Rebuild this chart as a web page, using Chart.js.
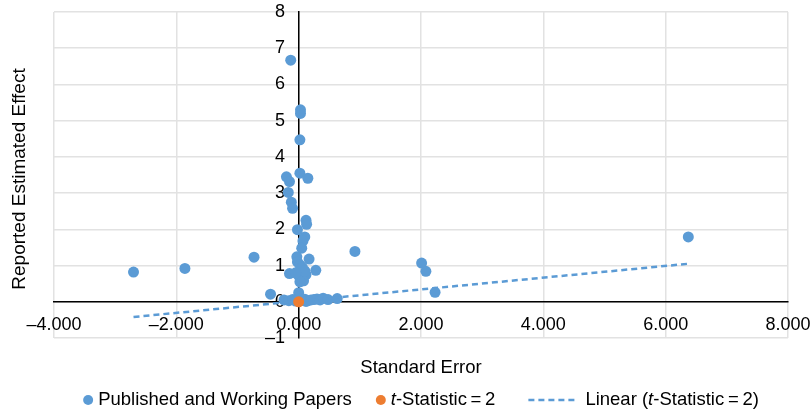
<!DOCTYPE html>
<html>
<head>
<meta charset="utf-8">
<script src="https://cdn.jsdelivr.net/npm/chart.js@4.4.1/dist/chart.umd.min.js"></script>
<style>
  body { margin: 0; background: #fff; }
  #wrap { width: 812px; height: 412px; }
</style>
</head>
<body>
<div id="wrap"><canvas id="seChart"></canvas></div>
<script>
// standard error (x) vs reported estimated effect (y)
const paperSE = [
  -2.70, -1.86, -0.73, 0.92, 2.01, 2.08, 2.23, 6.37,
  -0.13, 0.03, 0.03, 0.02, 0.02, 0.15, -0.20, -0.15, -0.17, -0.12, -0.10,
  0.12, 0.13, -0.02, 0.10, 0.07, 0.05, -0.03, 0.17, -0.02, 0.02, 0.06,
  -0.15, 0.28, 0.00, 0.05, 0.12, 0.08, 0.02, 0.10, -0.05,
  -0.46, 0.00,
  -0.24, -0.16, -0.10, -0.05, 0.05, 0.10, 0.12, 0.15, 0.20, 0.25, 0.30, 0.35, 0.40, 0.48, 0.63
];
const paperEffect = [
  0.82, 0.92, 1.23, 1.39, 1.07, 0.84, 0.26, 1.79,
  6.67, 5.30, 5.20, 4.47, 3.55, 3.41, 3.45, 3.32, 3.02, 2.75, 2.58,
  2.25, 2.14, 1.99, 1.79, 1.68, 1.48, 1.24, 1.18, 1.10, 1.02, 0.95,
  0.78, 0.87, 0.72, 0.65, 0.75, 0.58, 0.55, 0.85, 0.80,
  0.21, 0.25,
  0.05, 0.03, 0.06, 0.02, 0.04, 0.07, 0.01, 0.03, 0.05, 0.06, 0.08, 0.05, 0.10, 0.06, 0.09
];
const tStatSE = [0];
const tStatEffect = [0];
// ends of the linear trend for the t-statistic series
const trendSE = [-2.70, 6.37];
const trendEffect = [-0.42, 1.05];

const xTicks = [-4, -2, 0, 2, 4, 6, 8];
const yTicks = [-1, 0, 1, 2, 3, 4, 5, 6, 7, 8];

const seriesNames = ['Published and Working Papers', 't-Statistic\u2009=\u20092', 'Linear (t-Statistic\u2009=\u20092)'];
const blue = '#5b9bd5';
const orange = '#ed7d31';
const FONT = '"Liberation Sans", Arial, Helvetica, sans-serif';

const toPts = (xs, ys) => xs.map((x, i) => ({ x: x, y: ys[i] }));
const minusFmt = (v, digits) => (v < 0 ? '\u2013' : '') + Math.abs(v).toFixed(digits);
// crossing axes: stop the edge labels from pushing the plot area around
const noPad = s => { s.paddingTop = 0; s.paddingBottom = 0; s.paddingLeft = 0; s.paddingRight = 0; };

// axis titles + legend (legend needs the italic t, so it's drawn by hand)
const extras = {
  id: 'extras',
  afterDraw(chart) {
    const ctx = chart.ctx;
    const area = chart.chartArea;
    const mid = (area.left + area.right) / 2;
    ctx.save();
    ctx.fillStyle = '#000';
    ctx.font = '18.5px ' + FONT;
    ctx.textAlign = 'center';
    ctx.textBaseline = 'middle';
    ctx.fillText('Standard Error', mid, 368);
    ctx.save();
    ctx.translate(20, 179);
    ctx.rotate(-Math.PI / 2);
    ctx.font = '19px ' + FONT;
    ctx.fillText('Reported Estimated Effect', 0, 0);
    ctx.restore();

    // legend row
    const y = 400;
    const norm = '18.5px ' + FONT;
    const ital = 'italic 18.5px ' + FONT;
    const parts = [
      [{ t: 'Published and Working Papers', f: norm }],
      [{ t: 't', f: ital }, { t: '-Statistic\u2009=\u20092', f: norm }],
      [{ t: 'Linear (', f: norm }, { t: 't', f: ital }, { t: '-Statistic\u2009=\u20092)', f: norm }]
    ];
    const markW = [15, 15, 57];
    const gaps = [24, 33];
    const widths = parts.map(p => p.reduce((s, seg) => { ctx.font = seg.f; return s + ctx.measureText(seg.t).width; }, 0));
    let total = 0;
    widths.forEach((w, i) => { total += w + markW[i] + (gaps[i] || 0); });
    let x = mid - total / 2;
    ctx.textAlign = 'left';
    parts.forEach((p, i) => {
      if (i < 2) {
        ctx.fillStyle = i === 0 ? blue : orange;
        ctx.beginPath();
        ctx.arc(x + 5, y, 5, 0, Math.PI * 2);
        ctx.fill();
      } else {
        ctx.strokeStyle = blue;
        ctx.lineWidth = 2.5;
        ctx.setLineDash([6, 4]);
        ctx.beginPath();
        ctx.moveTo(x, y);
        ctx.lineTo(x + 50, y);
        ctx.stroke();
        ctx.setLineDash([]);
      }
      x += markW[i];
      ctx.fillStyle = '#000';
      p.forEach(seg => {
        ctx.font = seg.f;
        ctx.fillText(seg.t, x, y);
        x += ctx.measureText(seg.t).width;
      });
      x += gaps[i] || 0;
    });
    ctx.restore();
  }
};

new Chart(document.getElementById('seChart'), {
  type: 'scatter',
  data: {
    datasets: [
      {
        label: seriesNames[1],
        data: toPts(tStatSE, tStatEffect),
        backgroundColor: orange,
        pointRadius: 5.5,
        pointBorderWidth: 0,
        order: 0
      },
      {
        label: seriesNames[0],
        data: toPts(paperSE, paperEffect),
        backgroundColor: blue,
        pointRadius: 5.5,
        pointBorderWidth: 0,
        order: 2
      },
      {
        type: 'line',
        label: seriesNames[2],
        data: toPts(trendSE, trendEffect),
        borderColor: blue,
        borderWidth: 2.5,
        borderDash: [6, 4],
        pointRadius: 0,
        fill: false,
        order: 1
      }
    ]
  },
  options: {
    responsive: true,
    maintainAspectRatio: false,
    animation: false,
    layout: { padding: { left: 54, right: 24, top: 12, bottom: 74 } },
    plugins: {
      legend: { display: false },
      tooltip: { enabled: false }
    },
    scales: {
      x: {
        type: 'linear',
        position: { y: 0 },
        min: -4,
        max: 8,
        afterBuildTicks: s => { s.ticks = xTicks.map(v => ({ value: v })); },
        afterFit: noPad,
        grid: { color: '#e2e2e2', lineWidth: 1.5, drawTicks: false },
        border: { display: true, color: '#000', width: 1.5 },
        ticks: {
          color: '#000',
          font: { family: FONT, size: 18 },
          padding: 12,
          maxRotation: 0,
          callback: v => minusFmt(v, 3)
        }
      },
      y: {
        type: 'linear',
        position: { x: 0 },
        min: -1,
        max: 8,
        afterBuildTicks: s => { s.ticks = yTicks.map(v => ({ value: v })); },
        afterFit: noPad,
        grid: { color: '#e2e2e2', lineWidth: 1.5, drawTicks: false },
        border: { display: true, color: '#000', width: 1.5 },
        ticks: {
          color: '#000',
          font: { family: FONT, size: 18 },
          padding: 14,
          // labels sit right on the crossing axis, so pad them off it with spaces
          callback: v => minusFmt(v, 0) + '\u2007\u2009'
        }
      }
    }
  },
  plugins: [extras]
});
</script>
</body>
</html>
